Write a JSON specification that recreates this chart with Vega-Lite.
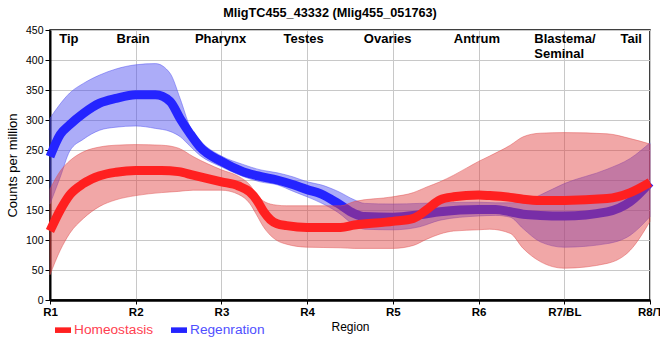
{
  "$schema": "https://vega.github.io/schema/vega-lite/v6.json",
  "width": 600,
  "height": 270,
  "autosize": {"type": "none"},
  "padding": {"left": 50, "top": 30, "right": 10, "bottom": 60},
  "background": "white",
  "title": {"text": "MligTC455_43332 (Mlig455_051763)", "font": "Liberation Sans", "fontSize": 12.7, "fontWeight": "bold", "color": "black", "anchor": "middle", "dx": -20, "offset": -5, "baseline": "alphabetic"},
  "config": {
    "font": "Liberation Sans",
    "view": {"stroke": "black", "strokeWidth": 1.5},
    "axis": {"gridColor": "#c8c8c8", "gridWidth": 1, "domainColor": "black", "tickColor": "black", "labelColor": "black", "titleColor": "black", "titleFontWeight": "normal"}
  },
  "datasets": {
    "curves": [
      {"g": "Homeostasis", "x": 1.00, "m": 115, "lo": 42, "hi": 185},
      {"g": "Homeostasis", "x": 1.12, "m": 150, "lo": 83, "hi": 215},
      {"g": "Homeostasis", "x": 1.23, "m": 175, "lo": 111, "hi": 232},
      {"g": "Homeostasis", "x": 1.39, "m": 194, "lo": 136, "hi": 247},
      {"g": "Homeostasis", "x": 1.58, "m": 207, "lo": 156, "hi": 255},
      {"g": "Homeostasis", "x": 1.77, "m": 213, "lo": 167, "hi": 258},
      {"g": "Homeostasis", "x": 2.00, "m": 216, "lo": 174, "hi": 259},
      {"g": "Homeostasis", "x": 2.30, "m": 216, "lo": 179, "hi": 258},
      {"g": "Homeostasis", "x": 2.50, "m": 214, "lo": 181, "hi": 253},
      {"g": "Homeostasis", "x": 2.67, "m": 208, "lo": 183, "hi": 239},
      {"g": "Homeostasis", "x": 3.00, "m": 197, "lo": 183, "hi": 217},
      {"g": "Homeostasis", "x": 3.20, "m": 190, "lo": 176, "hi": 206},
      {"g": "Homeostasis", "x": 3.33, "m": 180, "lo": 161, "hi": 192},
      {"g": "Homeostasis", "x": 3.41, "m": 167, "lo": 142, "hi": 176},
      {"g": "Homeostasis", "x": 3.49, "m": 148, "lo": 122, "hi": 165},
      {"g": "Homeostasis", "x": 3.57, "m": 134, "lo": 108, "hi": 160},
      {"g": "Homeostasis", "x": 3.65, "m": 127, "lo": 99, "hi": 158},
      {"g": "Homeostasis", "x": 3.76, "m": 124, "lo": 93, "hi": 157},
      {"g": "Homeostasis", "x": 4.00, "m": 121, "lo": 88, "hi": 157},
      {"g": "Homeostasis", "x": 4.39, "m": 121, "lo": 87, "hi": 157},
      {"g": "Homeostasis", "x": 4.55, "m": 125, "lo": 86, "hi": 164},
      {"g": "Homeostasis", "x": 5.00, "m": 131, "lo": 86, "hi": 172},
      {"g": "Homeostasis", "x": 5.24, "m": 136, "lo": 91, "hi": 179},
      {"g": "Homeostasis", "x": 5.39, "m": 150, "lo": 101, "hi": 188},
      {"g": "Homeostasis", "x": 5.55, "m": 167, "lo": 110, "hi": 197},
      {"g": "Homeostasis", "x": 5.71, "m": 172, "lo": 115, "hi": 208},
      {"g": "Homeostasis", "x": 6.00, "m": 175, "lo": 117, "hi": 231},
      {"g": "Homeostasis", "x": 6.13, "m": 174, "lo": 118, "hi": 240},
      {"g": "Homeostasis", "x": 6.37, "m": 171, "lo": 111, "hi": 258},
      {"g": "Homeostasis", "x": 6.52, "m": 168, "lo": 86, "hi": 272},
      {"g": "Homeostasis", "x": 6.72, "m": 166, "lo": 64, "hi": 278},
      {"g": "Homeostasis", "x": 7.00, "m": 166, "lo": 53, "hi": 279},
      {"g": "Homeostasis", "x": 7.50, "m": 169, "lo": 61, "hi": 277},
      {"g": "Homeostasis", "x": 7.77, "m": 179, "lo": 83, "hi": 269},
      {"g": "Homeostasis", "x": 8.00, "m": 196, "lo": 131, "hi": 260},
      {"g": "Regenration", "x": 1.00, "m": 239, "lo": 160, "hi": 303},
      {"g": "Regenration", "x": 1.12, "m": 276, "lo": 205, "hi": 327},
      {"g": "Regenration", "x": 1.23, "m": 292, "lo": 248, "hi": 345},
      {"g": "Regenration", "x": 1.39, "m": 311, "lo": 268, "hi": 361},
      {"g": "Regenration", "x": 1.58, "m": 328, "lo": 283, "hi": 375},
      {"g": "Regenration", "x": 1.77, "m": 336, "lo": 288, "hi": 385},
      {"g": "Regenration", "x": 2.00, "m": 342, "lo": 290, "hi": 392},
      {"g": "Regenration", "x": 2.23, "m": 342, "lo": 286, "hi": 394},
      {"g": "Regenration", "x": 2.40, "m": 331, "lo": 281, "hi": 378},
      {"g": "Regenration", "x": 2.52, "m": 302, "lo": 272, "hi": 335},
      {"g": "Regenration", "x": 2.63, "m": 278, "lo": 257, "hi": 290},
      {"g": "Regenration", "x": 2.75, "m": 255, "lo": 241, "hi": 266},
      {"g": "Regenration", "x": 3.00, "m": 231, "lo": 222, "hi": 240},
      {"g": "Regenration", "x": 3.25, "m": 214, "lo": 206, "hi": 226},
      {"g": "Regenration", "x": 3.45, "m": 206, "lo": 197, "hi": 217},
      {"g": "Regenration", "x": 3.65, "m": 200, "lo": 192, "hi": 212},
      {"g": "Regenration", "x": 3.84, "m": 192, "lo": 181, "hi": 205},
      {"g": "Regenration", "x": 4.00, "m": 184, "lo": 172, "hi": 197},
      {"g": "Regenration", "x": 4.16, "m": 177, "lo": 162, "hi": 192},
      {"g": "Regenration", "x": 4.36, "m": 161, "lo": 146, "hi": 181},
      {"g": "Regenration", "x": 4.55, "m": 144, "lo": 125, "hi": 167},
      {"g": "Regenration", "x": 4.67, "m": 139, "lo": 118, "hi": 161},
      {"g": "Regenration", "x": 5.00, "m": 138, "lo": 117, "hi": 160},
      {"g": "Regenration", "x": 5.31, "m": 142, "lo": 122, "hi": 161},
      {"g": "Regenration", "x": 5.55, "m": 147, "lo": 133, "hi": 162},
      {"g": "Regenration", "x": 6.00, "m": 151, "lo": 140, "hi": 163},
      {"g": "Regenration", "x": 6.20, "m": 151, "lo": 141, "hi": 162},
      {"g": "Regenration", "x": 6.37, "m": 147, "lo": 138, "hi": 162},
      {"g": "Regenration", "x": 6.52, "m": 143, "lo": 119, "hi": 163},
      {"g": "Regenration", "x": 6.72, "m": 141, "lo": 97, "hi": 175},
      {"g": "Regenration", "x": 7.00, "m": 140, "lo": 88, "hi": 194},
      {"g": "Regenration", "x": 7.50, "m": 147, "lo": 94, "hi": 218},
      {"g": "Regenration", "x": 7.77, "m": 164, "lo": 108, "hi": 236},
      {"g": "Regenration", "x": 8.00, "m": 196, "lo": 139, "hi": 262}
    ],
    "labels": [
      {"label": "Tip", "rx": 1.22, "ly": 428},
      {"label": "Brain", "rx": 1.97, "ly": 428},
      {"label": "Pharynx", "rx": 2.99, "ly": 428},
      {"label": "Testes", "rx": 3.96, "ly": 428},
      {"label": "Ovaries", "rx": 4.94, "ly": 428},
      {"label": "Antrum", "rx": 5.98, "ly": 428},
      {"label": "Tail", "rx": 7.78, "ly": 428}
    ],
    "labels2": [
      {"label": "Blastema/\nSeminal", "rx": 6.65, "ly": 428}
    ]
  },
  "layer": [
    {
      "data": {"name": "curves"},
      "transform": [{"filter": "datum.g == 'Regenration'"}],
      "mark": {"type": "area", "interpolate": "monotone", "color": "#4646f0", "fillOpacity": 0.45, "stroke": "#5050f0", "strokeWidth": 0.8, "strokeOpacity": 0.6},
      "encoding": {
        "x": {"field": "x", "type": "quantitative", "title": "Region",
          "scale": {"domain": [1, 8], "nice": false, "zero": false},
          "axis": {"values": [1, 2, 3, 4, 5, 6, 7, 8], "labelExpr": "['R1','R2','R3','R4','R5','R6','R7/BL','R8/T'][datum.value - 1]", "labelFontWeight": "bold", "labelFontSize": 11.5, "labelPadding": 2, "labelFlush": false, "labelOverlap": false, "tickSize": 4, "domainWidth": 2.5, "titleFontSize": 12, "titlePadding": 4}},
        "y": {"field": "lo", "type": "quantitative", "title": "Counts per million",
          "scale": {"domain": [0, 450], "nice": false},
          "axis": {"values": [0, 50, 100, 150, 200, 250, 300, 350, 400, 450], "labelOverlap": false, "labelFlush": false, "labelFontSize": 10.5, "labelPadding": 2, "tickSize": 5, "domainWidth": 2, "titleFontSize": 13, "titlePadding": 6}},
        "y2": {"field": "hi"}
      }
    },
    {
      "data": {"name": "curves"},
      "transform": [{"filter": "datum.g == 'Regenration'"}],
      "mark": {"type": "line", "interpolate": "monotone", "strokeWidth": 9},
      "encoding": {
        "x": {"field": "x", "type": "quantitative", "title": "Region"},
        "y": {"field": "m", "type": "quantitative", "title": "Counts per million",
          "axis": {"values": [0, 50, 100, 150, 200, 250, 300, 350, 400, 450], "labelOverlap": false, "labelFlush": false, "labelFontSize": 10.5, "labelPadding": 2, "tickSize": 5, "domainWidth": 2, "titleFontSize": 13, "titlePadding": 6}},
        "color": {"field": "g", "type": "nominal",
          "scale": {"domain": ["Homeostasis", "Regenration"], "range": ["#ff2020", "#2424ff"]},
          "legend": {"orient": "none", "legendX": 5, "legendY": 292, "direction": "horizontal", "title": null,
            "symbolType": "M-1,-0.35H1V0.35H-1Z", "symbolSize": 256, "labelFontSize": 13.7, "labelOffset": 3, "columnPadding": 17, "padding": 0,
            "encode": {
              "symbols": {"update": {"fill": {"scale": "color", "field": "value"}, "stroke": {"value": "transparent"}, "strokeWidth": {"value": 0}, "opacity": {"value": 1}}},
              "labels": {"update": {"fill": {"signal": "datum.value === 'Homeostasis' ? '#ff4050' : '#5050ff'"}}}
            }}}
      }
    },
    {
      "data": {"name": "curves"},
      "transform": [{"filter": "datum.g == 'Homeostasis'"}],
      "mark": {"type": "area", "interpolate": "monotone", "color": "#e03c3c", "fillOpacity": 0.45, "stroke": "#e05050", "strokeWidth": 0.8, "strokeOpacity": 0.6},
      "encoding": {
        "x": {"field": "x", "type": "quantitative", "title": "Region"},
        "y": {"field": "lo", "type": "quantitative", "title": "Counts per million",
          "axis": {"values": [0, 50, 100, 150, 200, 250, 300, 350, 400, 450], "labelOverlap": false, "labelFlush": false, "labelFontSize": 10.5, "labelPadding": 2, "tickSize": 5, "domainWidth": 2, "titleFontSize": 13, "titlePadding": 6}},
        "y2": {"field": "hi"}
      }
    },
    {
      "data": {"name": "curves"},
      "transform": [{"filter": "datum.g == 'Homeostasis'"}],
      "mark": {"type": "line", "interpolate": "monotone", "strokeWidth": 9},
      "encoding": {
        "x": {"field": "x", "type": "quantitative", "title": "Region"},
        "y": {"field": "m", "type": "quantitative", "title": "Counts per million",
          "axis": {"values": [0, 50, 100, 150, 200, 250, 300, 350, 400, 450], "labelOverlap": false, "labelFlush": false, "labelFontSize": 10.5, "labelPadding": 2, "tickSize": 5, "domainWidth": 2, "titleFontSize": 13, "titlePadding": 6}},
        "color": {"field": "g", "type": "nominal"}
      }
    },
    {
      "mark": {"type": "rule", "strokeDash": [5, 4], "strokeWidth": 2.5, "color": "black"},
      "encoding": {"x": {"datum": 7.5, "type": "quantitative"}}
    },
    {
      "data": {"name": "labels"},
      "mark": {"type": "text", "font": "Liberation Sans", "fontSize": 13, "fontWeight": "bold", "color": "black", "align": "center", "baseline": "alphabetic"},
      "encoding": {
        "x": {"field": "rx", "type": "quantitative", "title": "Region"},
        "y": {"field": "ly", "type": "quantitative", "title": "Counts per million",
          "axis": {"values": [0, 50, 100, 150, 200, 250, 300, 350, 400, 450], "labelOverlap": false, "labelFlush": false, "labelFontSize": 10.5, "labelPadding": 2, "tickSize": 5, "domainWidth": 2, "titleFontSize": 13, "titlePadding": 6}},
        "text": {"field": "label"}
      }
    },
    {
      "data": {"name": "labels2"},
      "mark": {"type": "text", "font": "Liberation Sans", "fontSize": 13, "fontWeight": "bold", "color": "black", "align": "left", "baseline": "alphabetic", "lineBreak": "\n", "lineHeight": 15},
      "encoding": {
        "x": {"field": "rx", "type": "quantitative", "title": "Region"},
        "y": {"field": "ly", "type": "quantitative", "title": "Counts per million",
          "axis": {"values": [0, 50, 100, 150, 200, 250, 300, 350, 400, 450], "labelOverlap": false, "labelFlush": false, "labelFontSize": 10.5, "labelPadding": 2, "tickSize": 5, "domainWidth": 2, "titleFontSize": 13, "titlePadding": 6}},
        "text": {"field": "label"}
      }
    }
  ]
}
